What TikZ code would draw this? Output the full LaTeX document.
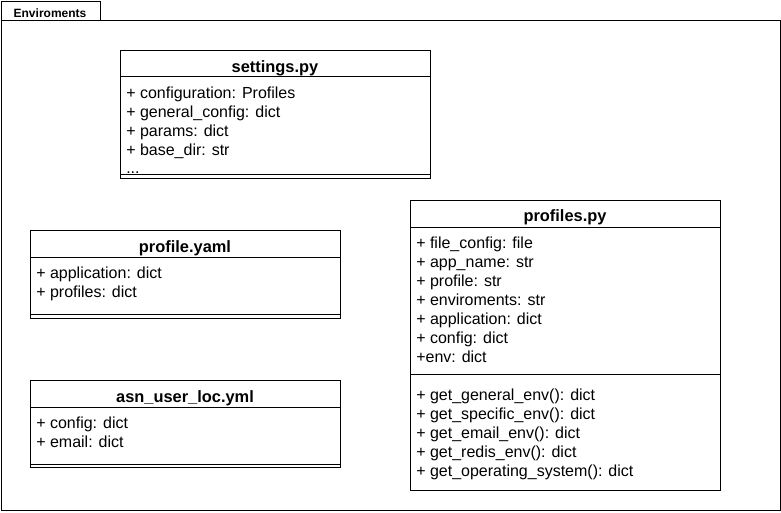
\documentclass[tikz,border=0pt]{standalone}
\usepackage{fontspec}
\setmainfont{Liberation Sans}
\begin{document}
\begin{tikzpicture}[x=0.75pt,y=-0.75pt,
  box/.style={draw,line width=0.75pt,inner sep=0pt,anchor=north west},
  sep/.style={line width=0.75pt},
  attr/.style={anchor=base west,inner sep=0pt,font=\fontsize{12}{14}\selectfont},
  ttl/.style={anchor=base,inner sep=0pt,font=\fontsize{12.3}{14}\selectfont\bfseries},
  tabtxt/.style={anchor=base,inner sep=0pt,font=\fontsize{9}{11}\selectfont\bfseries}]
\useasboundingbox (0,0) rectangle (781,512);
% package frame
\node[box,minimum width=74.25pt,minimum height=14.25pt] (tab) at (1,1) {};
\node[box,minimum width=584.25pt,minimum height=367.5pt] (frame) at (1,20) {};
\node[tabtxt] (tabl) at (50,17) {Enviroments};
% settings.py
\node[box,minimum width=232.5pt,minimum height=96pt] (settings) at (120,50) {};
\draw[sep] (120,76) -- (430,76);
\draw[sep] (120,174) -- (430,174);
\node[ttl] (settingsT) at (275,72.5) {settings.py};
\node[attr] (s1) at (126,98) {+ configuration: Profiles};
\node[attr] (s2) at (126,117) {+ general\_config: dict};
\node[attr] (s3) at (126,136) {+ params: dict};
\node[attr] (s4) at (126,155) {+ base\_dir: str};
\begin{scope}
\clip (120,50) rectangle (430,174);
\node[attr] (s5) at (126,173.5) {...};
\end{scope}
% profile.yaml
\node[box,minimum width=232.5pt,minimum height=66pt] (pyaml) at (30,230) {};
\draw[sep] (30,257) -- (340,257);
\draw[sep] (30,314) -- (340,314);
\node[ttl] (pyamlT) at (185,252.5) {profile.yaml};
\node[attr] (p1) at (36,278) {+ application: dict};
\node[attr] (p2) at (36,297) {+ profiles: dict};
% asn_user_loc.yml
\node[box,minimum width=232.5pt,minimum height=65.25pt] (asn) at (30,380) {};
\draw[sep] (30,407) -- (340,407);
\draw[sep] (30,464) -- (340,464);
\node[ttl] (asnT) at (185,402.5) {asn\_user\_loc.yml};
\node[attr] (a1) at (36,428) {+ config: dict};
\node[attr] (a2) at (36,447) {+ email: dict};
% profiles.py
\node[box,minimum width=232.5pt,minimum height=217.5pt] (profiles) at (410,200) {};
\draw[sep] (410,227) -- (720,227);
\draw[sep] (410,374) -- (720,374);
\node[ttl] (profilesT) at (565,221.5) {profiles.py};
\node[attr] (r1) at (416,248.5) {+ file\_config: file};
\node[attr] (r2) at (416,267.5) {+ app\_name: str};
\node[attr] (r3) at (416,286.5) {+ profile: str};
\node[attr] (r4) at (416,305.5) {+ enviroments: str};
\node[attr] (r5) at (416,324.5) {+ application: dict};
\node[attr] (r6) at (416,343.5) {+ config: dict};
\node[attr] (r7) at (416,362.5) {+env: dict};
\node[attr] (m1) at (416,400.5) {+ get\_general\_env(): dict};
\node[attr] (m2) at (416,419.5) {+ get\_specific\_env(): dict};
\node[attr] (m3) at (416,438.5) {+ get\_email\_env(): dict};
\node[attr] (m4) at (416,457.5) {+ get\_redis\_env(): dict};
\node[attr] (m5) at (416,476.5) {+ get\_operating\_system(): dict};
\end{tikzpicture}
\end{document}
